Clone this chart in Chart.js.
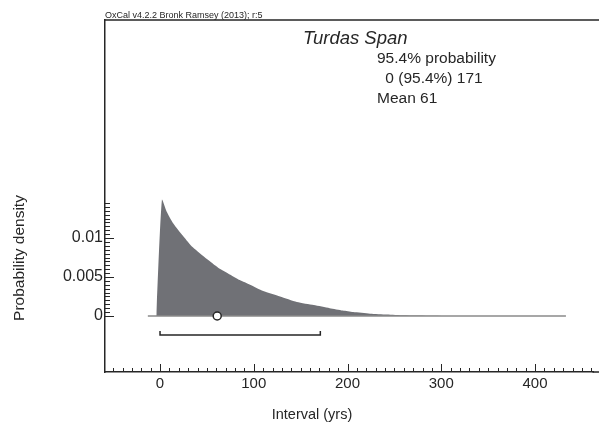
<!DOCTYPE html>
<html>
<head>
<meta charset="utf-8">
<script src="https://cdn.jsdelivr.net/npm/chart.js@4"></script>
<style>
  html, body { margin: 0; padding: 0; background: #fff; overflow: hidden; }
  #wrap { width: 599px; height: 423px; }
  canvas { display: block; }
</style>
</head>
<body>
<div id="wrap"><canvas id="spanChart" width="599" height="423"></canvas></div>
<script>
// Span posterior (interval in yrs vs probability density)
const spanYears   = [-4, 2, 7, 14, 25, 35, 50, 62, 75, 85, 96, 110, 128, 146, 164, 181, 195, 206, 224, 242, 260, 290, 320, 433];
const spanDensity = [0, 0.0149, 0.0134, 0.0119, 0.0102, 0.0088, 0.0073, 0.0062, 0.0053, 0.0046, 0.0040, 0.0032, 0.0025, 0.0018, 0.0014, 0.0010, 0.0007, 0.0005, 0.0003, 0.0002, 0.0001, 0.00004, 0, 0];
const baselineYears = [-13, 433];
const range95 = [0, 171];        // 95.4% range
const meanValue = 61;
const bracketLevel = -0.00244;   // y value where the range bar sits
const bracketTip = -0.00192;

const xLabelTicks = [0, 100, 200, 300, 400];
const yLabelTicks = [0, 0.005, 0.01];
const xMinorStep = 10;
const yMinorStep = 0.0005;
const yMinorTop = 0.0145;

const labelLines = ['95.4% probability', ' 0 (95.4%) 171', 'Mean 61'];

const FONT = '"Liberation Sans", Arial, Helvetica, sans-serif';
const INK = '#262626';

// minor tick lists
const xTicks = [];
for (let i = -5; i <= 46; i++) xTicks.push(i * xMinorStep);
const yTicks = [];
for (let i = 0; i <= Math.round(yMinorTop / yMinorStep); i++) yTicks.push(+(i * yMinorStep).toFixed(4));

const isMajor = (list, v) => list.some(t => Math.abs(t - v) < 1e-9);

const axisDecor = {
    id: 'axisDecor',
    afterDraw(chart) {
        const { ctx, chartArea, scales } = chart;
        const xs = scales.x, ys = scales.y;
        ctx.save();
        ctx.strokeStyle = INK;
        ctx.lineWidth = 1;

        // inward tick marks
        xTicks.forEach(v => {
            const px = Math.round(xs.getPixelForValue(v)) + 0.5;
            if (px > chartArea.right) return;
            const len = isMajor(xLabelTicks, v) ? 8 : 4;
            ctx.beginPath();
            ctx.moveTo(px, chartArea.bottom);
            ctx.lineTo(px, chartArea.bottom - len);
            ctx.stroke();
        });
        yTicks.forEach(v => {
            const py = Math.round(ys.getPixelForValue(v)) + 0.5;
            const len = isMajor(yLabelTicks, v) ? 9 : 5;
            ctx.beginPath();
            ctx.moveTo(chartArea.left, py);
            ctx.lineTo(chartArea.left + len, py);
            ctx.stroke();
        });

        // frame runs off the right edge of the picture
        ctx.lineWidth = 1.5;
        ctx.beginPath();
        ctx.moveTo(chartArea.left, chartArea.top);
        ctx.lineTo(chart.width, chartArea.top);
        ctx.moveTo(chartArea.right - 1, chartArea.bottom);
        ctx.lineTo(chart.width, chartArea.bottom);
        ctx.stroke();

        // texts
        ctx.fillStyle = INK;
        ctx.textBaseline = 'alphabetic';
        ctx.textAlign = 'left';
        ctx.font = '9px ' + FONT;
        ctx.fillText('OxCal v4.2.2 Bronk Ramsey (2013); r:5', 105, 18);

        ctx.font = 'italic 18.5px ' + FONT;
        ctx.fillText('Turdas Span', 303, 44);

        ctx.font = '15.5px ' + FONT;
        ctx.fillText(labelLines[0], 377, 63);
        ctx.fillText(labelLines[1], 381, 83);
        ctx.fillText(labelLines[2], 377, 103);

        ctx.font = '14.5px ' + FONT;
        ctx.textAlign = 'center';
        ctx.fillText('Interval (yrs)', 312, 419);

        ctx.save();
        ctx.translate(24, 258);
        ctx.rotate(-Math.PI / 2);
        ctx.font = '15.5px ' + FONT;
        ctx.fillText('Probability density', 0, 0);
        ctx.restore();

        ctx.restore();
    }
};

const ctx = document.getElementById('spanChart').getContext('2d');

new Chart(ctx, {
    type: 'line',
    data: {
        datasets: [
            {
                label: 'Mean',
                order: 0,
                data: [{ x: meanValue, y: 0 }],
                showLine: false,
                pointRadius: 4,
                pointBackgroundColor: '#ffffff',
                pointBorderColor: INK,
                pointBorderWidth: 1.5
            },
            {
                label: '95.4% range',
                order: 1,
                data: [
                    { x: range95[0], y: bracketTip },
                    { x: range95[0], y: bracketLevel },
                    { x: range95[1], y: bracketLevel },
                    { x: range95[1], y: bracketTip }
                ],
                borderColor: INK,
                borderWidth: 1.5,
                fill: false,
                tension: 0,
                pointRadius: 0
            },
            {
                label: 'Baseline',
                order: 2,
                data: baselineYears.map(x => ({ x: x, y: 0 })),
                borderColor: '#8a8a8a',
                borderWidth: 1.5,
                fill: false,
                pointRadius: 0
            },
            {
                label: 'Span',
                order: 3,
                data: spanYears.map((x, i) => ({ x: x, y: spanDensity[i] })),
                borderWidth: 0,
                borderColor: '#707176',
                backgroundColor: '#707176',
                fill: 'origin',
                tension: 0.2,
                pointRadius: 0
            }
        ]
    },
    options: {
        responsive: false,
        animation: false,
        layout: { padding: { top: 20, right: 0, left: 0, bottom: 0 } },
        plugins: {
            legend: { display: false },
            tooltip: { enabled: false },
            title: { display: false }
        },
        scales: {
            x: {
                type: 'linear',
                min: -58.7,
                max: 462.4,
                afterBuildTicks: scale => { scale.ticks = xLabelTicks.map(v => ({ value: v })); },
                afterFit: scale => {
                    scale.height = 51;
                    scale.paddingLeft = 0;
                    scale.paddingRight = 0;
                },
                grid: { display: false, drawTicks: false },
                border: { display: true, color: INK, width: 1.5 },
                ticks: {
                    autoSkip: false,
                    maxRotation: 0,
                    padding: 3,
                    color: INK,
                    font: { family: FONT, size: 15 },
                    callback: v => String(v)
                }
            },
            y: {
                type: 'linear',
                min: -0.00718,
                max: 0.03795,
                afterBuildTicks: scale => { scale.ticks = yLabelTicks.map(v => ({ value: v })); },
                afterFit: scale => {
                    scale.width = 105;
                    scale.paddingTop = 0;
                    scale.paddingBottom = 0;
                },
                grid: { display: false, drawTicks: false },
                border: { display: true, color: INK, width: 1.5 },
                ticks: {
                    autoSkip: false,
                    padding: 2,
                    color: INK,
                    font: { family: FONT, size: 16 },
                    callback: v => String(v)
                }
            }
        }
    },
    plugins: [axisDecor]
});
</script>
</body>
</html>
